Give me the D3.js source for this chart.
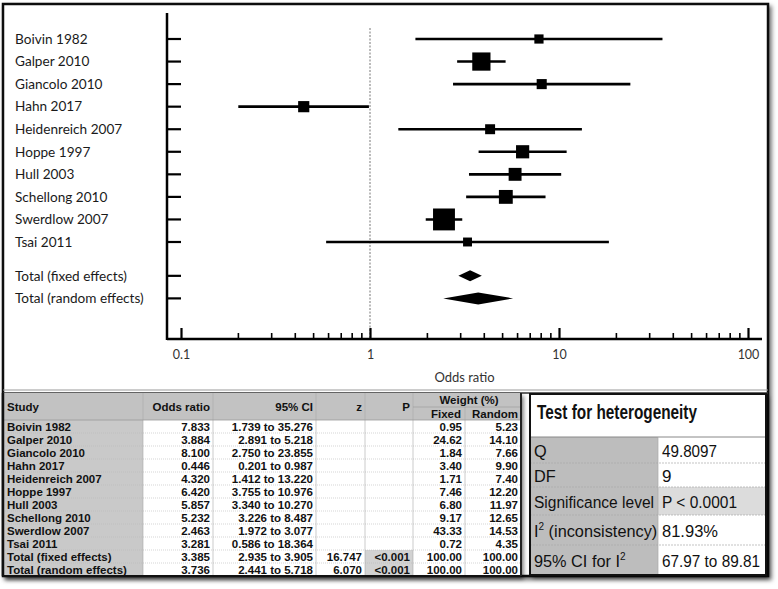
<!DOCTYPE html>
<html><head><meta charset="utf-8">
<script src="https://cdn.jsdelivr.net/npm/d3@7"></script>
<style>
html,body{margin:0;padding:0;background:#fff;}
svg{display:block;}
</style></head>
<body>
<svg id="chart" width="778" height="589"></svg>
<script>
// ---------- data ----------
const studies = ["Boivin 1982","Galper 2010","Giancolo 2010","Hahn 2017","Heidenreich 2007","Hoppe 1997","Hull 2003","Schellong 2010","Swerdlow 2007","Tsai 2011"];
const oddsRatio = [7.833,3.884,8.100,0.446,4.320,6.420,5.857,5.232,2.463,3.281];
const ciLow = [1.739,2.891,2.750,0.201,1.412,3.755,3.340,3.226,1.972,0.586];
const ciHigh = [35.276,5.218,23.855,0.987,13.220,10.976,10.270,8.487,3.077,18.364];
const weightFixed = [0.95,24.62,1.84,3.40,1.71,7.46,6.80,9.17,43.33,0.72];
const weightRandom = [5.23,14.10,7.66,9.90,7.40,12.20,11.97,12.65,14.53,4.35];
const totalLabels = ["Total (fixed effects)","Total (random effects)"];
const totalOR = [3.385,3.736];
const totalLow = [2.935,2.441];
const totalHigh = [3.905,5.718];
const totalZ = ["16.747","6.070"];
const totalP = ["<0.001","<0.001"];
const majorTicks = [0.1,1,10,100];
const minorTicks = [0.2,0.3,0.4,0.5,0.6,0.7,0.8,0.9,2,3,4,5,6,7,8,9,20,30,40,50,60,70,80,90];
const tableHeaders = ["Study","Odds ratio","95% CI","z","P"];
const hetLabels = ["Q","DF","Significance level","I|2| (inconsistency)","95% CI for I|2|"];
const hetValues = ["49.8097","9","P < 0.0001","81.93%","67.97 to 89.81"];

// ---------- setup ----------
const svg = d3.select("#chart");
const defs = svg.append("defs");
const f = defs.append("filter").attr("id","shadow").attr("x","-5%").attr("y","-5%").attr("width","110%").attr("height","110%");
f.append("feDropShadow").attr("dx",2.5).attr("dy",3).attr("stdDeviation",2).attr("flood-color","#000").attr("flood-opacity",0.55);

// outer frame
svg.append("rect").attr("x",3).attr("y",4).attr("width",765).attr("height",572)
  .attr("fill","#fff").attr("stroke","#111").attr("stroke-width",2.5).attr("filter","url(#shadow)");

// ---------- forest plot ----------
const x = d3.scaleLog().domain([0.1,100]).range([181,748]);
const y = d3.scaleLinear().domain([0,9]).range([39,242]);
const size = d3.scaleSqrt().domain([0,50]).range([7,23]);
const axisY = 339, yAxisX = 167;
const plotFont = "Lato, 'Open Sans', sans-serif";

const g = svg.append("g");

g.append("line").attr("x1",x(1)).attr("x2",x(1)).attr("y1",28).attr("y2",axisY)
  .attr("stroke","#777").attr("stroke-width",1).attr("stroke-dasharray","2,1.5");

g.append("line").attr("x1",yAxisX).attr("x2",yAxisX).attr("y1",13).attr("y2",axisY+1)
  .attr("stroke","#000").attr("stroke-width",2.5);
const rowPos = studies.map((s,i)=>y(i)).concat([y(10.5),y(11.5)]);
const rowLabels = studies.concat(totalLabels);
g.selectAll(".ytick").data(rowPos).join("line").attr("class","ytick")
  .attr("x1",yAxisX).attr("x2",x(0.1)).attr("y1",d=>d).attr("y2",d=>d)
  .attr("stroke","#000").attr("stroke-width",2.2);
g.selectAll(".ylab").data(rowLabels).join("text").attr("class","ylab")
  .attr("x",15).attr("y",(d,i)=>rowPos[i]).attr("dy","0.35em")
  .attr("font-family",plotFont).attr("font-size",13.6).attr("fill","#1a1a1a").text(d=>d);

g.append("line").attr("x1",yAxisX).attr("x2",x(100)+14).attr("y1",axisY).attr("y2",axisY)
  .attr("stroke","#000").attr("stroke-width",2.5);
const minorAxis = d3.axisBottom(x).tickValues(minorTicks).tickSize(-6).tickFormat("");
const gMin = g.append("g").attr("transform",`translate(0,${axisY})`).call(minorAxis);
gMin.select(".domain").remove();
gMin.selectAll("line").attr("stroke","#000").attr("stroke-width",1.6);
const majorAxis = d3.axisBottom(x).tickValues(majorTicks).tickSize(-11).tickFormat(d=>String(d));
const gMaj = g.append("g").attr("transform",`translate(0,${axisY})`).call(majorAxis);
gMaj.select(".domain").remove();
gMaj.selectAll("line").attr("stroke","#000").attr("stroke-width",2.2);
gMaj.selectAll("text").attr("font-family",plotFont).attr("font-size",12.5).attr("fill","#333").attr("y",16).attr("dy","0.35em");
g.append("text").attr("x",(x(0.1)+x(100))/2).attr("y",377).attr("dy","0.35em").attr("text-anchor","middle")
  .attr("font-family",plotFont).attr("font-size",13).attr("fill","#333").text("Odds ratio");

g.selectAll(".ci").data(studies).join("line").attr("class","ci")
  .attr("x1",(d,i)=>x(ciLow[i])).attr("x2",(d,i)=>x(ciHigh[i]))
  .attr("y1",(d,i)=>y(i)).attr("y2",(d,i)=>y(i)).attr("stroke","#000").attr("stroke-width",2.6);
g.selectAll(".sq").data(studies).join("rect").attr("class","sq")
  .attr("x",(d,i)=>x(oddsRatio[i])-size(weightFixed[i])/2)
  .attr("y",(d,i)=>y(i)-size(weightFixed[i])/2)
  .attr("width",(d,i)=>size(weightFixed[i])).attr("height",(d,i)=>size(weightFixed[i]))
  .attr("fill","#000");
const dh = [5.5,6];
g.selectAll(".dia").data(totalLabels).join("path").attr("class","dia")
  .attr("d",(d,i)=>{const yy=rowPos[10+i];return `M${x(totalLow[i])},${yy}L${x(totalOR[i])},${yy-dh[i]}L${x(totalHigh[i])},${yy}L${x(totalOR[i])},${yy+dh[i]}Z`;})
  .attr("fill","#000");

svg.append("line").attr("x1",3).attr("x2",768).attr("y1",390).attr("y2",390).attr("stroke","#999").attr("stroke-width",1);
svg.append("line").attr("x1",3).attr("x2",768).attr("y1",393).attr("y2",393).attr("stroke","#333").attr("stroke-width",1.5);

// ---------- results table ----------
const tFont = "'Liberation Sans', Arial, sans-serif";
const colX = [3,143,213,316,365,413,465,521];
const headTop = 393, headBot = 420, rowH = 13;
const nRows = 12;
const tg = svg.append("g");
tg.append("rect").attr("x",colX[0]).attr("y",headTop).attr("width",colX[7]-colX[0]).attr("height",headBot-headTop+nRows*rowH)
  .attr("fill","#fff").attr("filter","url(#shadow)");
tg.append("rect").attr("x",colX[0]).attr("y",headTop).attr("width",colX[7]-colX[0]).attr("height",headBot-headTop).attr("fill","#c2c2c2");
tg.append("rect").attr("x",colX[0]).attr("y",headBot).attr("width",colX[1]-colX[0]).attr("height",nRows*rowH).attr("fill","#c9c9c9");
tg.selectAll(".pbg").data(totalP).join("rect").attr("class","pbg")
  .attr("x",colX[4]).attr("y",(d,i)=>headBot+(10+i)*rowH).attr("width",colX[5]-colX[4]).attr("height",rowH).attr("fill","#d2d2d2");
tg.selectAll(".rsep").data(d3.range(1,nRows)).join("line").attr("class","rsep")
  .attr("x1",colX[0]).attr("x2",colX[7]).attr("y1",d=>headBot+d*rowH).attr("y2",d=>headBot+d*rowH)
  .attr("stroke","#bbb").attr("stroke-width",0.6).attr("stroke-dasharray","1,1");
tg.selectAll(".csep").data(colX.slice(1,7)).join("line").attr("class","csep")
  .attr("x1",d=>d).attr("x2",d=>d).attr("y1",(d,i)=>i===5?407:headTop).attr("y2",headBot+nRows*rowH)
  .attr("stroke","#aaa").attr("stroke-width",0.6);
tg.append("line").attr("x1",colX[0]).attr("x2",colX[7]).attr("y1",headBot).attr("y2",headBot).attr("stroke","#999").attr("stroke-width",0.8);
tg.append("line").attr("x1",colX[5]).attr("x2",colX[7]).attr("y1",407).attr("y2",407).attr("stroke","#999").attr("stroke-width",0.6);
const hdr = tg.append("g").attr("font-family",tFont).attr("font-weight","bold").attr("font-size",11.5).attr("fill","#111");
hdr.append("text").attr("x",colX[0]+4).attr("y",407).attr("dy","0.35em").text(tableHeaders[0]);
tableHeaders.slice(1).forEach((h,i)=>{
  hdr.append("text").attr("x",colX[i+2]-3).attr("y",407).attr("dy","0.35em").attr("text-anchor","end").text(h);
});
hdr.append("text").attr("x",(colX[5]+colX[7])/2+2).attr("y",400).attr("dy","0.35em").attr("text-anchor","middle").text("Weight (%)");
hdr.append("text").attr("x",colX[6]-4).attr("y",414).attr("dy","0.35em").attr("text-anchor","end").text("Fixed");
hdr.append("text").attr("x",colX[7]-3).attr("y",414).attr("dy","0.35em").attr("text-anchor","end").text("Random");
const bodyRows = studies.map((s,i)=>[s,oddsRatio[i].toFixed(3),ciLow[i].toFixed(3)+" to "+ciHigh[i].toFixed(3),"","",weightFixed[i].toFixed(2),weightRandom[i].toFixed(2)])
  .concat(totalLabels.map((s,i)=>[s,totalOR[i].toFixed(3),totalLow[i].toFixed(3)+" to "+totalHigh[i].toFixed(3),totalZ[i],totalP[i],"100.00","100.00"]));
const body = tg.append("g").attr("font-family",tFont).attr("font-weight","bold").attr("font-size",11.5).attr("fill","#111");
bodyRows.forEach((row,r)=>{
  const yy = headBot + r*rowH + rowH/2 + 0.5;
  row.forEach((cell,c)=>{
    if(!cell) return;
    const t = body.append("text").attr("y",yy).attr("dy","0.35em").text(cell);
    if(c===0) t.attr("x",colX[0]+4);
    else t.attr("x",colX[c+1]-3).attr("text-anchor","end");
  });
});
tg.append("line").attr("x1",colX[0]).attr("x2",colX[7]).attr("y1",576).attr("y2",576).attr("stroke","#111").attr("stroke-width",2);
tg.append("line").attr("x1",colX[7]).attr("x2",colX[7]).attr("y1",headTop).attr("y2",576).attr("stroke","#222").attr("stroke-width",2);
tg.append("line").attr("x1",3).attr("x2",3).attr("y1",headTop).attr("y2",576).attr("stroke","#111").attr("stroke-width",2.5);

// ---------- heterogeneity box ----------
const hx0 = 530, hx1 = 766, hxm = 658, hy0 = 394, hy1 = 575;
const hRows = [437,463,487,515,545,575];
const valueWidths = [55,null,75,56,98];
const labelWidths = [null,null,120,null,null];
const hg = svg.append("g");
hg.append("rect").attr("x",hx0).attr("y",hy0).attr("width",hx1-hx0).attr("height",hy1-hy0)
  .attr("fill","#fff").attr("filter","url(#shadow)");
hg.selectAll(".hlbg").data(hetLabels).join("rect").attr("class","hlbg")
  .attr("x",hx0).attr("y",(d,i)=>hRows[i]).attr("width",hxm-hx0).attr("height",(d,i)=>hRows[i+1]-hRows[i]).attr("fill","#bdbdbd");
hg.append("rect").attr("x",hxm).attr("y",hRows[2]).attr("width",hx1-hxm).attr("height",hRows[3]-hRows[2]).attr("fill","#dcdcdc");
hg.append("line").attr("x1",hx0).attr("x2",hx1).attr("y1",hRows[0]).attr("y2",hRows[0]).attr("stroke","#888").attr("stroke-width",1);
hg.selectAll(".hsep").data(hRows.slice(1,5)).join("line").attr("class","hsep")
  .attr("x1",hx0).attr("x2",hx1).attr("y1",d=>d).attr("y2",d=>d).attr("stroke","#aaa").attr("stroke-width",0.7).attr("stroke-dasharray","2,1");
hg.append("line").attr("x1",hxm).attr("x2",hxm).attr("y1",hRows[0]).attr("y2",hy1).attr("stroke","#aaa").attr("stroke-width",0.7);
hg.append("rect").attr("x",hx0).attr("y",hy0).attr("width",hx1-hx0).attr("height",hy1-hy0)
  .attr("fill","none").attr("stroke","#111").attr("stroke-width",2);
hg.append("text").attr("x",537).attr("y",412).attr("dy","0.35em").attr("font-family",tFont).attr("font-weight","bold")
  .attr("font-size",19.5).attr("fill","#111").attr("textLength",160).attr("lengthAdjust","spacingAndGlyphs").text("Test for heterogeneity");
hetLabels.forEach((lab,i)=>{
  const yy = (hRows[i]+hRows[i+1])/2 + 1;
  const t = hg.append("text").attr("x",534).attr("y",yy).attr("dy","0.35em").attr("font-family",tFont).attr("font-size",16.3).attr("fill","#111");
  lab.split("|").forEach((part,k)=>{
    if(!part) return;
    if(k===1) t.append("tspan").attr("font-size",10).attr("dy","-0.7em").text(part);
    else if(k===2) t.append("tspan").attr("dy","0.44em").text(part);
    else t.append("tspan").text(part);
  });
  if(labelWidths[i]) t.attr("textLength",labelWidths[i]).attr("lengthAdjust","spacingAndGlyphs");
  const v = hg.append("text").attr("x",662).attr("y",yy).attr("dy","0.35em").attr("font-family",tFont).attr("font-size",17).attr("fill","#111").text(hetValues[i]);
  if(valueWidths[i]) v.attr("textLength",valueWidths[i]).attr("lengthAdjust","spacingAndGlyphs");
});
</script>
</body></html>
